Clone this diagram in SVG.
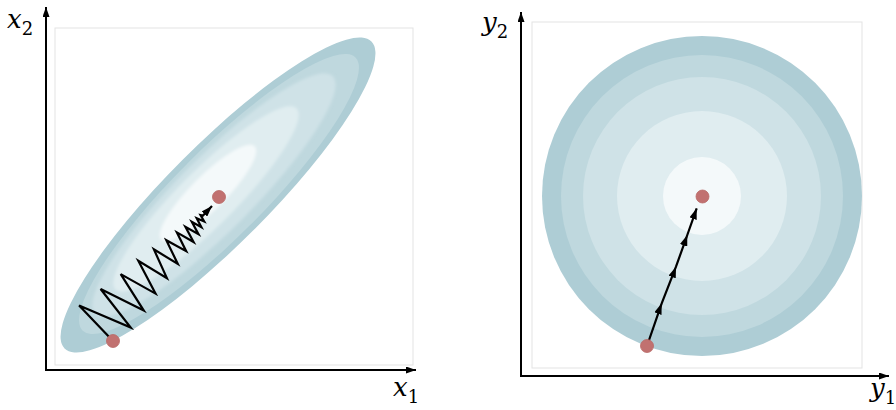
<svg xmlns="http://www.w3.org/2000/svg" width="896" height="410" viewBox="0 0 896 410">
<defs>
<style>
.frame{fill:none;stroke:#e3e3e3;stroke-width:1}
.axis{fill:none;stroke:#000;stroke-width:2}
.lbl{font-family:"DejaVu Serif","Liberation Serif",serif;font-style:italic;font-size:26px;fill:#000}
.sub{font-style:normal;font-size:18px}
.dot{fill:#c17170;stroke:#b86866;stroke-width:0.8}
.path{fill:none;stroke:#000;stroke-width:2.2;stroke-linejoin:miter}
.c1{fill:#aecdd5}.c2{fill:#bfd8de}.c3{fill:#cfe2e7}.c4{fill:#e0edf0}.c5{fill:#f4f9fa}
</style>
<marker id="ax" viewBox="0 0 10 7" refX="10" refY="3.5" markerWidth="5" markerHeight="3.5" markerUnits="strokeWidth" orient="auto"><path d="M0,0 L10,3.5 L0,7 z" fill="#000"/></marker>
<marker id="ah" viewBox="0 0 10 7" refX="10" refY="3.5" markerWidth="5" markerHeight="3.5" markerUnits="strokeWidth" orient="auto"><path d="M0,0 L10,3.5 L0,7 z" fill="#000"/></marker>
<filter id="soft" x="-10%" y="-10%" width="120%" height="120%"><feGaussianBlur stdDeviation="1.5"/></filter>
</defs>
<rect width="896" height="410" fill="#fff"/>

<g id="left-plot">
<rect class="frame" x="55" y="28" width="358" height="337"/>
<g id="left-contours">
<ellipse class="c1" cx="218" cy="195" rx="217" ry="50" transform="rotate(-45 218 195)"/>
<ellipse class="c2" cx="219" cy="194" rx="193" ry="44" transform="rotate(-45 219 194)"/>
<g filter="url(#soft)">
<ellipse class="c3" cx="214" cy="195" rx="168" ry="37" transform="rotate(-45 214 195)"/>
<ellipse class="c4" cx="206" cy="199" rx="128" ry="28" transform="rotate(-45 206 199)"/>
<ellipse class="c5" cx="208" cy="193" rx="66" ry="17" transform="rotate(-45 208 193)"/>
</g>
</g>
<line class="axis" x1="46" y1="371" x2="46" y2="7" marker-end="url(#ax)"/>
<line class="axis" x1="45" y1="370" x2="416" y2="370" marker-end="url(#ax)"/>
<text class="lbl" x="7" y="28">x<tspan class="sub" dy="7">2</tspan></text>
<text class="lbl" x="393" y="396">x<tspan class="sub" dy="7">1</tspan></text>
</g>

<g id="right-plot">
<rect class="frame" x="532" y="22" width="330" height="346"/>
<g id="right-contours">
<circle class="c1" cx="702" cy="196" r="160"/>
<circle class="c2" cx="702" cy="196" r="141"/>
<circle class="c3" cx="702" cy="196" r="119"/>
<circle class="c4" cx="702" cy="196" r="85"/>
<circle class="c5" cx="702" cy="196" r="39"/>
</g>
<line class="axis" x1="521" y1="377" x2="521" y2="12" marker-end="url(#ax)"/>
<line class="axis" x1="520" y1="376" x2="889" y2="376" marker-end="url(#ax)"/>
<text class="lbl" x="482" y="31">y<tspan class="sub" dy="7">2</tspan></text>
<text class="lbl" x="870" y="397">y<tspan class="sub" dy="7">1</tspan></text>
</g>

<g id="connectors">
<path id="zigzag" class="path" marker-end="url(#ah)" d="M113,341 L79.1,305.6 L130.7,327.6 L100.6,289 L143.8,310.6 L120.7,274.1 L155.5,293.6 L138.3,260.7 L166.9,278.1 L153.9,249.4 L177.8,263.9 L166.3,240.2 L186.2,251.2 L176.9,232.4 L193.6,242 L185.4,226.8 L198.5,234.2 L191.8,221.8 L201.4,227.2 L196.7,218.3 L204.2,221.5 L200.5,215 L203,215.5 L212,206"/>
<path id="direct" class="path" marker-mid="url(#ah)" marker-end="url(#ah)" d="M647,346 L661.7,303.3 L676,266.7 L687.3,235 L696.7,208.3"/>
</g>

<g id="start-left"><circle class="dot" cx="113" cy="341" r="6.5"/></g>
<g id="min-left"><circle class="dot" cx="219" cy="197" r="6.5"/></g>
<g id="start-right"><circle class="dot" cx="647" cy="346" r="6.5"/></g>
<g id="min-right"><circle class="dot" cx="702.5" cy="196.5" r="6.5"/></g>
</svg>
